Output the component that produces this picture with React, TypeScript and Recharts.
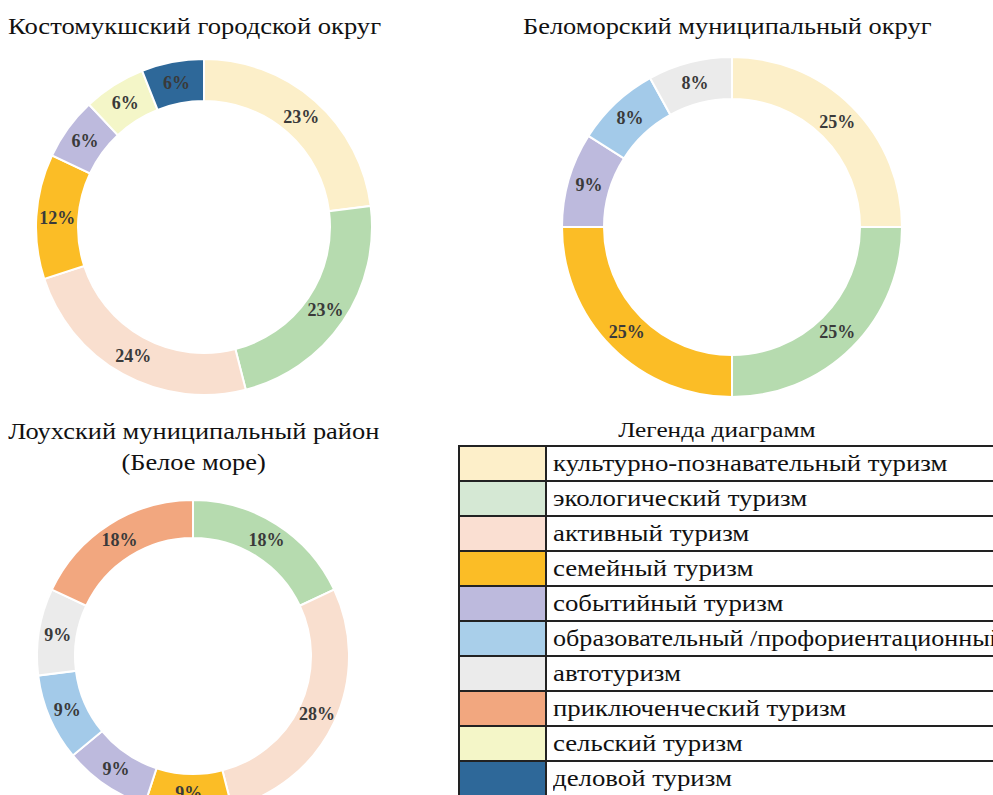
import React from 'react';
import { PieChart, Pie, Cell } from 'recharts';

const categories = [
  'культурно-познавательный туризм',
  'экологический туризм',
  'активный туризм',
  'семейный туризм',
  'событийный туризм',
  'образовательный /профориентационный туризм',
  'автотуризм',
  'приключенческий туризм',
  'сельский туризм',
  'деловой туризм',
];

const colors = [
  '#FCEFC9',
  '#B6DBAF',
  '#F9DFCF',
  '#FBBD26',
  '#BDBADD',
  '#A3CAE9',
  '#EBEBEB',
  '#F2A77F',
  '#F4F6C8',
  '#2E6899',
];

const legendColors = [
  '#FDEFC9',
  '#D5E8D4',
  '#FADFD2',
  '#FBBD26',
  '#BDBADD',
  '#A9CFEA',
  '#EBEBEB',
  '#F2A77F',
  '#F4F6C8',
  '#2E6899',
];

// доли по видам туризма (индекс категории, %)
const kostomukshaCats = [0, 1, 2, 3, 4, 8, 9];
const kostomukshaValues = [23, 23, 24, 12, 6, 6, 6];

const belomorskCats = [0, 1, 3, 4, 5, 6];
const belomorskValues = [25, 25, 25, 9, 8, 8];

const loukhiCats = [1, 2, 3, 4, 5, 6, 7];
const loukhiValues = [18, 28, 9, 9, 9, 9, 18];

const legendLabels = [
  'культурно-познавательный туризм',
  'экологический туризм',
  'активный туризм',
  'семейный туризм',
  'событийный туризм',
  'образовательный /профориентационный',
  'автотуризм',
  'приключенческий туризм',
  'сельский туризм',
  'деловой туризм',
];

const SERIF = "'Liberation Serif', 'DejaVu Serif', serif";
const RAD = Math.PI / 180;

const build = (cats: number[], vals: number[]) =>
  cats.map((c, i) => ({ name: categories[c], value: vals[i], color: colors[c] }));

const renderLabel = (props: any) => {
  const { cx, cy, midAngle, innerRadius, outerRadius, value } = props;
  const r = (innerRadius + outerRadius) / 2;
  const x = cx + r * Math.cos(-midAngle * RAD);
  const y = cy + r * Math.sin(-midAngle * RAD);
  return (
    <text
      x={x}
      y={y}
      fill="#3A3A3A"
      textAnchor="middle"
      dominantBaseline="central"
      fontFamily={SERIF}
      fontWeight="bold"
      fontSize={18}
    >
      {value}%
    </text>
  );
};

type DonutProps = {
  data: { name: string; value: number; color: string }[];
  left: number;
  top: number;
  size: number;
  inner: number;
  outer: number;
};

const Donut = ({ data, left, top, size, inner, outer }: DonutProps) => (
  <div style={{ position: 'absolute', left, top }}>
    <PieChart width={size} height={size}>
      <Pie
        data={data}
        dataKey="value"
        nameKey="name"
        cx={size / 2}
        cy={size / 2}
        innerRadius={inner}
        outerRadius={outer}
        startAngle={90}
        endAngle={-270}
        stroke="#fff"
        strokeWidth={2}
        label={renderLabel}
        labelLine={false}
        isAnimationActive={false}
      >
        {data.map((d, i) => (
          <Cell key={i} fill={d.color} />
        ))}
      </Pie>
    </PieChart>
  </div>
);

// текст в оригинале слегка растянут по горизонтали
const Wide = ({ children, k, origin = 'left' }: { children: React.ReactNode; k: number; origin?: string }) => (
  <span style={{ display: 'inline-block', transform: `scaleX(${k})`, transformOrigin: origin }}>{children}</span>
);

const titleStyle: React.CSSProperties = {
  position: 'absolute',
  fontFamily: SERIF,
  fontSize: 24,
  color: '#111',
  whiteSpace: 'nowrap',
  lineHeight: '31px',
};

export default function App() {
  return (
    <div
      style={{
        position: 'fixed',
        left: 0,
        top: 0,
        width: 993,
        height: 795,
        overflow: 'hidden',
        background: '#fff',
      }}
    >
      <div style={{ ...titleStyle, left: 8, top: 11 }}>
        <Wide k={1.107}>Костомукшский городской округ</Wide>
      </div>
      <div style={{ ...titleStyle, left: 523, top: 11 }}>
        <Wide k={1.1}>Беломорский муниципальный округ</Wide>
      </div>
      <div style={{ ...titleStyle, left: 0, top: 416, width: 388, textAlign: 'center' }}>
        <Wide k={1.1} origin="center">Лоухский муниципальный район</Wide>
        <br />
        <Wide k={1.1} origin="center">(Белое море)</Wide>
      </div>

      <Donut data={build(kostomukshaCats, kostomukshaValues)} left={199 - 180} top={222 - 180} size={360} inner={126} outer={168} />
      <Donut data={build(belomorskCats, belomorskValues)} left={727 - 180} top={222 - 180} size={360} inner={128} outer={170} />
      <Donut data={build(loukhiCats, loukhiValues)} left={188 - 170} top={651 - 170} size={340} inner={118} outer={156} />

      <div
        style={{
          position: 'absolute',
          left: 458,
          top: 415,
          width: 518,
          textAlign: 'center',
          fontFamily: SERIF,
          fontSize: 22,
          color: '#111',
          lineHeight: '30px',
        }}
      >
        <Wide k={1.15} origin="center">Легенда диаграмм</Wide>
      </div>
      <table
        style={{
          position: 'absolute',
          left: 458,
          top: 445,
          width: 660,
          tableLayout: 'fixed',
          borderCollapse: 'collapse',
          fontFamily: SERIF,
          fontSize: 23,
          color: '#111',
        }}
      >
        <colgroup>
          <col style={{ width: 87 }} />
          <col style={{ width: 573 }} />
        </colgroup>
        <tbody>
          {legendLabels.map((l, i) => (
            <tr key={i} style={{ height: 35 }}>
              <td style={{ padding: 0, background: legendColors[i], border: '2px solid #222' }} />
              <td
                style={{
                  padding: '0 0 0 6px',
                  border: '2px solid #222',
                  whiteSpace: 'nowrap',
                  lineHeight: '30px',
                }}
              >
                <Wide k={l.length > 32 ? 1.135 : 1.165}>{l}</Wide>
              </td>
            </tr>
          ))}
        </tbody>
      </table>
    </div>
  );
}
